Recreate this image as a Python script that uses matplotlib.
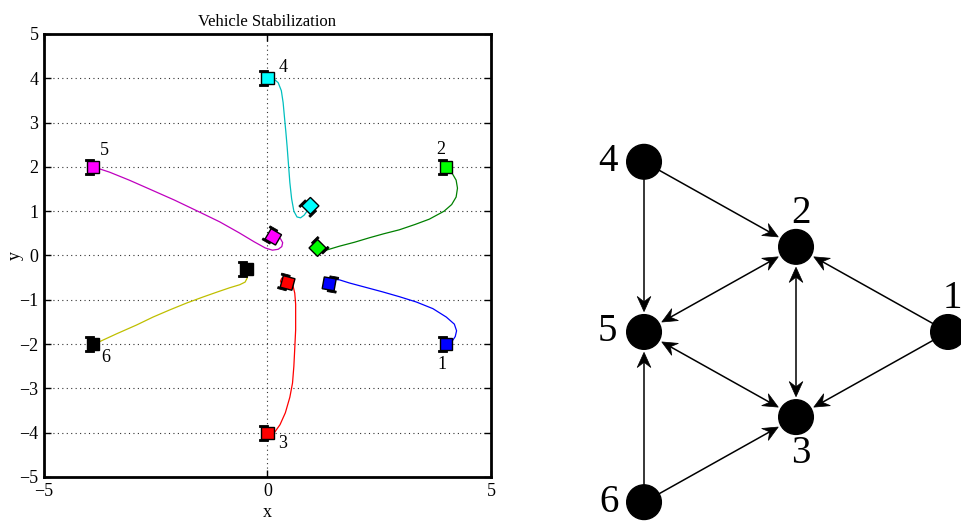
import numpy as np
import matplotlib
matplotlib.use("Agg")
import matplotlib.pyplot as plt
from matplotlib.patches import Polygon, Circle

plt.rcParams["font.family"] = ["Liberation Serif", "DejaVu Serif"]

# ---- trajectories ----
traj1_x = [4.12, 4.20, 4.23, 4.18, 4.00, 3.70, 3.33, 2.95, 2.57, 2.20, 1.83, 1.61, 1.50]
traj1_y = [-1.95, -1.83, -1.70, -1.55, -1.39, -1.20, -1.05, -0.93, -0.82, -0.72, -0.62, -0.55, -0.54]

traj2_x = [4.05, 4.14, 4.22, 4.25, 4.22, 4.12, 3.95, 3.62, 3.30, 2.95, 2.60, 2.28, 1.95, 1.61, 1.28, 1.12]
traj2_y = [1.90, 1.84, 1.70, 1.52, 1.32, 1.15, 1.00, 0.82, 0.70, 0.58, 0.49, 0.40, 0.30, 0.21, 0.11, 0.08]

traj3_x = [0.16, 0.28, 0.40, 0.50, 0.56, 0.59, 0.61, 0.63, 0.63, 0.63, 0.61, 0.57, 0.50, 0.40, 0.32, 0.29, 0.33]
traj3_y = [-3.99, -3.82, -3.55, -3.20, -2.88, -2.50, -2.10, -1.68, -1.35, -1.10, -0.85, -0.68, -0.56, -0.49, -0.51, -0.58, -0.66]

traj4_x = [0.16, 0.24, 0.31, 0.35, 0.38, 0.41, 0.44, 0.47, 0.50, 0.54, 0.59, 0.66, 0.74, 0.82, 0.90]
traj4_y = [3.97, 3.90, 3.72, 3.45, 3.12, 2.80, 2.45, 2.05, 1.65, 1.28, 1.00, 0.87, 0.85, 0.91, 1.02]

traj5_x = [-3.83, -3.53, -3.09, -2.64, -2.08, -1.52, -1.07, -0.63, -0.30, -0.05, 0.11, 0.24, 0.32, 0.34, 0.29]
traj5_y = [1.98, 1.88, 1.70, 1.50, 1.25, 0.98, 0.76, 0.51, 0.31, 0.17, 0.12, 0.14, 0.20, 0.29, 0.38]

traj6_x = [-3.83, -3.38, -2.93, -2.56, -2.19, -1.80, -1.45, -1.14, -0.85, -0.62, -0.50, -0.45, -0.44]
traj6_y = [-1.98, -1.77, -1.57, -1.39, -1.23, -1.07, -0.94, -0.83, -0.73, -0.66, -0.60, -0.50, -0.38]

trajs_x = [traj1_x, traj2_x, traj3_x, traj4_x, traj5_x, traj6_x]
trajs_y = [traj1_y, traj2_y, traj3_y, traj4_y, traj5_y, traj6_y]
line_colors = ["#0000ff", "#008000", "#ff0000", "#00bfbf", "#bf00bf", "#bfbf00"]
body_colors = ["#0000ff", "#00ff00", "#ff0000", "#00ffff", "#ff00ff", "#000000"]

# vehicle poses (start and end), heading in degrees
start_x = [4.0, 4.0, 0.0, 0.0, -3.9, -3.9]
start_y = [-2.0, 2.0, -4.0, 4.0, 2.0, -2.0]
start_th = [0, 0, 0, 0, 0, 0]
end_x = [1.38, 1.12, 0.45, 0.96, 0.13, -0.47]
end_y = [-0.64, 0.17, -0.62, 1.12, 0.42, -0.30]
end_th = [170, 225, -15, 45, -30, 0]

veh_labels = ["1", "2", "3", "4", "5", "6"]
lab_x = [3.9, 3.87, 0.34, 0.34, -3.65, -3.62]
lab_y = [-2.45, 2.4, -4.25, 4.25, 2.36, -2.3]

# ---- communication graph ----
node_names = ["1", "2", "3", "4", "5", "6"]
node_x = [2.0, 1.0, 1.0, 0.0, 0.0, 0.0]
node_y = [0.0, 0.56, -0.56, 1.12, 0.0, -1.12]
node_lab_dx = [0.03, 0.03, 0.03, -0.24, -0.24, -0.23]
node_lab_dy = [0.22, 0.22, -0.24, 0.0, 0.0, 0.0]
one_way = [(4, 2), (4, 5), (1, 2), (1, 3), (6, 5), (6, 3)]
two_way = [(2, 5), (2, 3), (5, 3)]


def draw_vehicle(ax, x, y, th, color, s=0.27):
    c, sn = np.cos(np.radians(th)), np.sin(np.radians(th))
    def pts(local):
        return [(x + c * px - sn * py, y + sn * px + c * py) for px, py in local]
    h = s / 2
    for side in (1, -1):
        w = [(-h - 0.05, side * h), (h * 0.1, side * h),
             (h * 0.1, side * (h + 0.045)), (-h - 0.05, side * (h + 0.045))]
        ax.add_patch(Polygon(pts(w), closed=True, fc="black", ec="black", lw=0.6, zorder=4))
    body = [(-h, -h), (h, -h), (h, h), (-h, h)]
    ax.add_patch(Polygon(pts(body), closed=True, fc=color, ec="black", lw=1.0, zorder=5))


fig = plt.figure(figsize=(9.62, 5.23), dpi=100)

ax = fig.add_axes([0.0457, 0.088, 0.4647, 0.847])
for i in range(6):
    ax.plot(trajs_x[i], trajs_y[i], color=line_colors[i], lw=0.9, zorder=3)
    draw_vehicle(ax, start_x[i], start_y[i], start_th[i], body_colors[i])
    draw_vehicle(ax, end_x[i], end_y[i], end_th[i], body_colors[i])
    ax.text(lab_x[i], lab_y[i], veh_labels[i], fontsize=13, ha="center", va="center")

ax.set_xlim(-5, 5)
ax.set_ylim(-5, 5)
ax.set_xticks([-5, 0, 5])
ax.set_yticks(range(-5, 6))
ax.grid(True, color="#333333", linestyle=(0, (1, 3)), linewidth=0.8)
ax.tick_params(direction="in", top=True, right=True, length=5, width=1, labelsize=13, pad=4)
for sp in ax.spines.values():
    sp.set_linewidth(2)
ax.set_title("Vehicle Stabilization", fontsize=12, pad=6)
ax.set_xlabel("x", fontsize=13, labelpad=3)
ax.set_ylabel("y", fontsize=13, labelpad=-3)

gx = fig.add_axes([0.5821, 0.0, 0.4179, 0.7514])
gx.set_xlim(-0.553, 2.092)
gx.set_ylim(-1.257, 1.329)
gx.axis("off")
r = 0.114
for i in range(6):
    gx.add_patch(Circle((node_x[i], node_y[i]), r, fc="black", ec="black", zorder=3, clip_on=False))
    gx.text(node_x[i] + node_lab_dx[i], node_y[i] + node_lab_dy[i], node_names[i],
            fontsize=28, ha="center", va="center", clip_on=False)

gap = 0.02
head_len = 0.10
head_w = 0.045
notch = 0.035


def head(p, u):
    # stealth arrowhead with tip just outside the node p, pointing along u
    tip = p - u * (r + gap)
    nrm = np.array([-u[1], u[0]])
    back = tip - u * head_len
    inner = tip - u * (head_len - notch)
    gx.add_patch(Polygon([tip, back + nrm * head_w, inner, back - nrm * head_w],
                         closed=True, fc="black", ec="black", lw=0.5, zorder=2))
    return inner


def edge(a, b, both):
    p = np.array([node_x[a - 1], node_y[a - 1]])
    q = np.array([node_x[b - 1], node_y[b - 1]])
    u = (q - p) / np.hypot(*(q - p))
    end = head(q, u)
    start = head(p, -u) if both else p + u * r
    gx.plot([start[0], end[0]], [start[1], end[1]], color="black", lw=1.1, zorder=2)


for a, b in one_way:
    edge(a, b, False)
for a, b in two_way:
    edge(a, b, True)

fig.savefig("out.png", dpi=100)
